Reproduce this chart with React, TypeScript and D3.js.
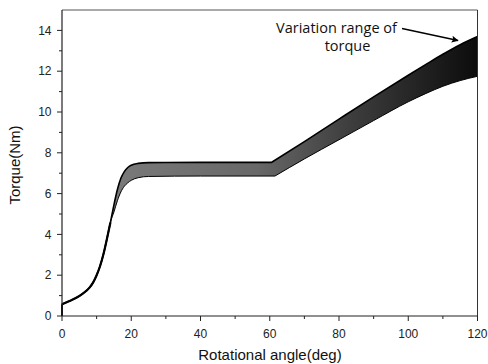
import React from "react";
import * as d3 from "d3";

const W = 488;
const H = 364;

// Shared part of the curve (before the band splits)
const commonX = [0, 2, 4, 6, 8, 9, 10, 11, 12, 13, 14];
const commonY = [0.57, 0.72, 0.88, 1.1, 1.4, 1.65, 2.0, 2.45, 3.05, 3.8, 4.6];

// Upper bound of the torque band: rise + plateau
const upperX = [14, 15, 16, 17, 18, 19, 20, 22, 25, 40, 60.5];
const upperY = [4.6, 5.45, 6.2, 6.75, 7.08, 7.28, 7.39, 7.48, 7.52, 7.53, 7.53];
// Upper bound: second rise
const upper2X = [60.5, 70, 80, 90, 100, 105, 110, 115, 120];
const upper2Y = [7.53, 8.55, 9.65, 10.74, 11.8, 12.32, 12.83, 13.3, 13.7];

// Lower bound of the torque band: rise + plateau
const lowerX = [14, 15, 16, 17, 18, 19, 20, 22, 25, 40, 61.5];
const lowerY = [4.6, 5.1, 5.65, 6.08, 6.36, 6.53, 6.65, 6.78, 6.84, 6.86, 6.86];
// Lower bound: second rise
const lower2X = [61.5, 70, 80, 90, 100, 105, 110, 115, 120];
const lower2Y = [6.86, 7.7, 8.64, 9.58, 10.5, 10.9, 11.26, 11.54, 11.75];

const xMajor = [0, 20, 40, 60, 80, 100, 120];
const xMinor = [10, 30, 50, 70, 90, 110];
const yMajor = [0, 2, 4, 6, 8, 10, 12, 14];
const yMinor = [1, 3, 5, 7, 9, 11, 13];

type P = [number, number];
const zip = (a: number[], b: number[]): P[] => a.map((v, i) => [v, b[i]] as P);

export default function App() {
  const left = 62, right = 477.5, top = 10, bottom = 316;
  const x = d3.scaleLinear().domain([0, 120]).range([left, right]);
  const y = d3.scaleLinear().domain([0, 15]).range([bottom, top]);

  const line = d3
    .line<P>()
    .x((d) => x(d[0]))
    .y((d) => y(d[1]))
    .curve(d3.curveMonotoneX);

  const common = zip(commonX, commonY);
  const upA = common.concat(zip(upperX, upperY).slice(1));
  const upB = zip(upper2X, upper2Y);
  const loA = common.concat(zip(lowerX, lowerY).slice(1));
  const loB = zip(lower2X, lower2Y);

  const upPath = (line(upA) || "") + "L" + (line(upB) || "").slice(1);
  const loPath = (line(loA) || "") + "L" + (line(loB) || "").slice(1);
  const loRevPath =
    (line(loB.slice().reverse()) || "") + "L" + (line(loA.slice().reverse()) || "").slice(1);
  const bandPath = upPath + "L" + loRevPath.slice(1) + "Z";

  const font = "'Liberation Sans', Arial, sans-serif";
  const annFont = "'Open Sans', 'Noto Sans', sans-serif";

  return (
    <svg width={W} height={H} style={{ position: "absolute", left: 0, top: 0 }}>
      <defs>
        <linearGradient id="bandGrad" gradientUnits="userSpaceOnUse" x1={x(14)} y1={0} x2={x(120)} y2={0}>
          <stop offset="0%" stopColor="#7a7a7a" />
          <stop offset="40%" stopColor="#686868" />
          <stop offset="65%" stopColor="#3e3e3e" />
          <stop offset="100%" stopColor="#0c0c0c" />
        </linearGradient>
        <marker id="arrow" viewBox="0 0 10 10" refX="9" refY="5" markerWidth="6" markerHeight="5" orient="auto">
          <path d="M0,0 L10,5 L0,10 L2,5 Z" fill="#000" />
        </marker>
      </defs>
      <rect x={0} y={0} width={W} height={H} fill="#fff" />

      {/* band */}
      <path d={bandPath} fill="url(#bandGrad)" stroke="none" />
      <path d={loPath} fill="none" stroke="#000" strokeWidth={1} />
      <path d={upPath} fill="none" stroke="#000" strokeWidth={1.6} />
      <path d={line(common) || ""} fill="none" stroke="#000" strokeWidth={2.2} />
      <line x1={x(0)} x2={x(0)} y1={y(0)} y2={y(commonY[0])} stroke="#000" strokeWidth={2} />

      {/* frame */}
      <line x1={left} x2={right} y1={top} y2={top} stroke="#555" strokeWidth={1} />
      <line x1={right} x2={right} y1={top} y2={bottom} stroke="#333" strokeWidth={1} />
      <line x1={left} x2={left} y1={top} y2={bottom} stroke="#222" strokeWidth={1.2} />
      <line x1={left} x2={right} y1={bottom} y2={bottom} stroke="#222" strokeWidth={1.2} />

      {/* x ticks */}
      {xMajor.map((t) => (
        <g key={"xm" + t}>
          <line x1={x(t)} x2={x(t)} y1={bottom} y2={bottom + 5} stroke="#222" />
          <text x={x(t)} y={337.5} fontSize={12} fontFamily={font} textAnchor="middle" fill="#222">
            {t}
          </text>
        </g>
      ))}
      {xMinor.map((t) => (
        <line key={"xn" + t} x1={x(t)} x2={x(t)} y1={bottom} y2={bottom + 3} stroke="#222" />
      ))}

      {/* y ticks */}
      {yMajor.map((t) => (
        <g key={"ym" + t}>
          <line x1={left} x2={left - 5} y1={y(t)} y2={y(t)} stroke="#222" />
          <text x={51.5} y={y(t) + 4.2} fontSize={12} fontFamily={font} textAnchor="end" fill="#222">
            {t}
          </text>
        </g>
      ))}
      {yMinor.map((t) => (
        <line key={"yn" + t} x1={left} x2={left - 3} y1={y(t)} y2={y(t)} stroke="#222" />
      ))}

      {/* axis titles */}
      <text x={270} y={359.5} fontSize={15} fontFamily={font} textAnchor="middle" fill="#111">
        Rotational angle(deg)
      </text>
      <text
        transform={`translate(20,${(top + bottom) / 2 + 2}) rotate(-90)`}
        fontSize={15}
        fontFamily={font}
        textAnchor="middle"
        fill="#111"
      >
        Torque(Nm)
      </text>

      {/* annotation */}
      <text x={336.5} y={33} fontSize={14.5} fontFamily={annFont} textAnchor="middle" fill="#111">
        Variation range of
      </text>
      <text x={347.5} y={51} fontSize={14.5} fontFamily={annFont} textAnchor="middle" fill="#111">
        torque
      </text>
      <line x1={402} y1={28.5} x2={458} y2={40.5} stroke="#000" strokeWidth={1.4} markerEnd="url(#arrow)" />
    </svg>
  );
}
